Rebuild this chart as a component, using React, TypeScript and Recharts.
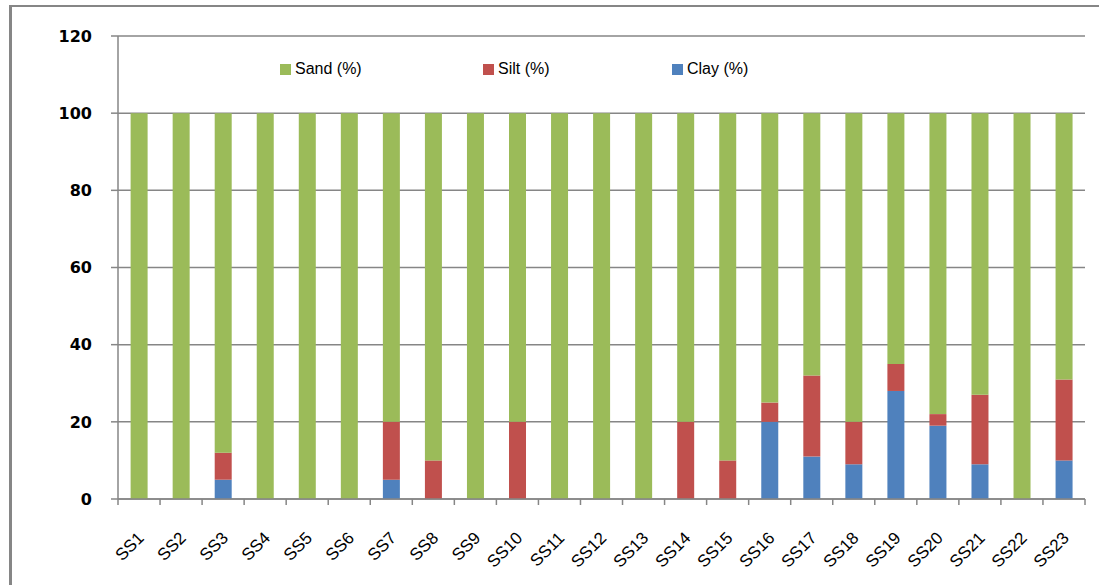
import React from 'react';
import { BarChart, Bar, XAxis, YAxis, CartesianGrid, Legend } from 'recharts';

const categories = ['SS1','SS2','SS3','SS4','SS5','SS6','SS7','SS8','SS9','SS10','SS11','SS12','SS13','SS14','SS15','SS16','SS17','SS18','SS19','SS20','SS21','SS22','SS23'];
const clayValues = [0,0,5,0,0,0,5,0,0,0,0,0,0,0,0,20,11,9,28,19,9,0,10];
const siltValues = [0,0,7,0,0,0,15,10,0,20,0,0,0,20,10,5,21,11,7,3,18,0,21];
const sandValues = [100,100,88,100,100,100,80,90,100,80,100,100,100,80,90,75,68,80,65,78,73,100,69];
const yTicks = [0,20,40,60,80,100,120];

const seriesInfo = [
  { key: 'sand', name: 'Sand (%)', color: '#9BBB59' },
  { key: 'silt', name: 'Silt (%)', color: '#C0504D' },
  { key: 'clay', name: 'Clay (%)', color: '#4F81BD' },
];

const data = categories.map((c, i) => ({
  name: c,
  clay: clayValues[i],
  silt: siltValues[i],
  sand: sandValues[i],
}));

const W = 1099;
const H = 585;
const PLOT_LEFT = 118;
const PLOT_RIGHT = 1085;
const BAND = (PLOT_RIGHT - PLOT_LEFT) / categories.length;
const GRID = '#868686';

function XTick(props: any) {
  const { x, y, payload } = props;
  const idx = payload.index;
  const axisY = y;
  return (
    <g>
      <line x1={x - BAND / 2} y1={axisY} x2={x - BAND / 2} y2={axisY + 6} stroke={GRID} strokeWidth={1.5} />
      {idx === categories.length - 1 && (
        <line x1={x + BAND / 2} y1={axisY} x2={x + BAND / 2} y2={axisY + 6} stroke={GRID} strokeWidth={1.5} />
      )}
      <text
        x={0}
        y={0}
        transform={`translate(${x + 6},${axisY + 40}) rotate(-45)`}
        textAnchor="end"
        fontFamily="Liberation Sans, Arial, sans-serif"
        fontSize={17}
        fill="#000"
      >
        {payload.value}
      </text>
    </g>
  );
}

const legendPos = [280, 483, 672];

function LegendContent() {
  return (
    <div style={{ position: 'relative', width: W, height: 0 }}>
      {seriesInfo.map((s, i) => (
        <div key={s.key} style={{ position: 'absolute', left: legendPos[i], top: 0, display: 'flex', alignItems: 'center', whiteSpace: 'nowrap' }}>
          <span style={{ display: 'inline-block', width: 11, height: 11, background: s.color, marginRight: 4 }} />
          <span style={{ fontFamily: 'Liberation Sans, Arial, sans-serif', fontSize: 16, color: '#000', lineHeight: '20px' }}>{s.name}</span>
        </div>
      ))}
    </div>
  );
}

export default function App() {
  return (
    <div style={{ position: 'absolute', left: 0, top: 0, width: W, height: H, background: '#fff', overflow: 'hidden' }}>
      <div style={{ position: 'absolute', left: 9, top: 5, width: W - 9, height: H - 5, borderLeft: `3px solid ${GRID}`, borderTop: `2px solid ${GRID}`, boxSizing: 'border-box' }} />
      <div style={{ position: 'absolute', left: 0, top: 0 }}>
        <BarChart
          width={W}
          height={H}
          data={data}
          margin={{ top: 36, right: W - PLOT_RIGHT, bottom: 26, left: PLOT_LEFT - 60 }}
          barCategoryGap="30%"
        >
          <CartesianGrid vertical={false} stroke={GRID} strokeWidth={1.5} />
          <XAxis
            dataKey="name"
            height={60}
            axisLine={{ stroke: GRID, strokeWidth: 1.5 }}
            tickLine={false}
            tickSize={0}
            tickMargin={0}
            interval={0}
            tick={<XTick />}
          />
          <YAxis
            width={60}
            domain={[0, 120]}
            ticks={yTicks}
            interval={0}
            axisLine={{ stroke: GRID, strokeWidth: 1.5 }}
            tickLine={{ stroke: GRID, strokeWidth: 1.5 }}
            tickSize={7}
            tickMargin={19}
            tick={{ fill: '#000', fontSize: 16, fontWeight: 'bold', fontFamily: 'DejaVu Sans, sans-serif' }}
          />
          <Legend
            verticalAlign="middle"
            content={<LegendContent />}
            wrapperStyle={{ position: 'absolute', left: 0, top: 59, width: W, height: 0 }}
          />
          <Bar dataKey="clay" name="Clay (%)" stackId="a" fill="#4F81BD" isAnimationActive={false} />
          <Bar dataKey="silt" name="Silt (%)" stackId="a" fill="#C0504D" isAnimationActive={false} />
          <Bar dataKey="sand" name="Sand (%)" stackId="a" fill="#9BBB59" isAnimationActive={false} />
        </BarChart>
      </div>
    </div>
  );
}
